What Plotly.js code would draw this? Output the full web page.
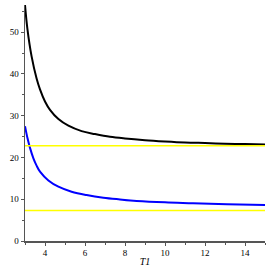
<!DOCTYPE html>
<html>
<head>
<meta charset="utf-8">
<script src="https://cdn.plot.ly/plotly-3.0.1.min.js"></script>
<style>html,body{margin:0;padding:0;background:#fff;}#chart{width:270px;height:270px;}</style>
</head>
<body>
<div id="chart"></div>
<script>
// Values
var blackX = [3.0, 3.12, 3.33, 3.58, 3.75, 4.0, 4.25, 4.67, 5.17, 5.83, 6.5, 7.25, 8.0, 9.0, 10.0, 11.0, 12.0, 13.0, 14.0, 15.0];
var blackY = [56.5, 50.8, 44.2, 38.9, 36.3, 33.4, 31.4, 29.2, 27.6, 26.3, 25.6, 24.95, 24.55, 24.15, 23.85, 23.6, 23.45, 23.3, 23.2, 23.1];
var blueX = [3.0, 3.12, 3.25, 3.42, 3.58, 3.75, 4.17, 4.67, 5.33, 6.08, 6.92, 7.75, 8.58, 10.0, 11.4, 13.1, 15.0];
var blueY = [27.5, 24.7, 22.3, 19.8, 18.05, 16.6, 14.5, 13.0, 11.8, 11.0, 10.36, 9.95, 9.6, 9.25, 9.05, 8.8, 8.6];
var upperLevel = 22.8;
var lowerLevel = 7.3;
var xRange = [3, 15];
var yRange = [0, 56.5];
var xLabel = "T1";

var traces = [
  {x: blackX, y: blackY, mode: 'lines', line: {color: '#000000', width: 2, shape: 'spline', smoothing: 1}},
  {x: blueX, y: blueY, mode: 'lines', line: {color: '#0000ff', width: 2, shape: 'spline', smoothing: 1}},
  {x: xRange, y: [upperLevel, upperLevel], mode: 'lines', line: {color: '#ffff00', width: 1.6}},
  {x: xRange, y: [lowerLevel, lowerLevel], mode: 'lines', line: {color: '#ffff00', width: 1.6}}
];

var axisFont = {family: 'Liberation Serif, Times New Roman, serif', size: 9, color: '#000'};
var layout = {
  width: 270, height: 270,
  margin: {l: 25, r: 5, t: 5, b: 29},
  paper_bgcolor: '#fff', plot_bgcolor: '#fff',
  showlegend: false,
  xaxis: {
    range: xRange, dtick: 2, tick0: 0, showgrid: false, zeroline: false,
    showline: true, linecolor: '#555', linewidth: 1.5,
    ticks: 'outside', ticklen: 3, tickcolor: '#555', tickwidth: 1,
    tickfont: axisFont,
    minor: {dtick: 1, ticklen: 2, tickcolor: '#555', showgrid: false, ticks: 'outside'},
    title: {text: xLabel, font: {family: 'Liberation Serif, serif', size: 10, color: '#000', style: 'italic'}, standoff: 0}
  },
  yaxis: {
    range: yRange, dtick: 10, tick0: 0, showgrid: false, zeroline: false,
    showline: true, linecolor: '#555', linewidth: 1.5,
    ticks: 'outside', ticklen: 3, tickcolor: '#555', tickwidth: 1,
    tickfont: axisFont,
    minor: {dtick: 5, ticklen: 2, tickcolor: '#555', showgrid: false, ticks: 'outside'}
  }
};
Plotly.newPlot('chart', traces, layout, {staticPlot: true, displayModeBar: false});
</script>
</body>
</html>
